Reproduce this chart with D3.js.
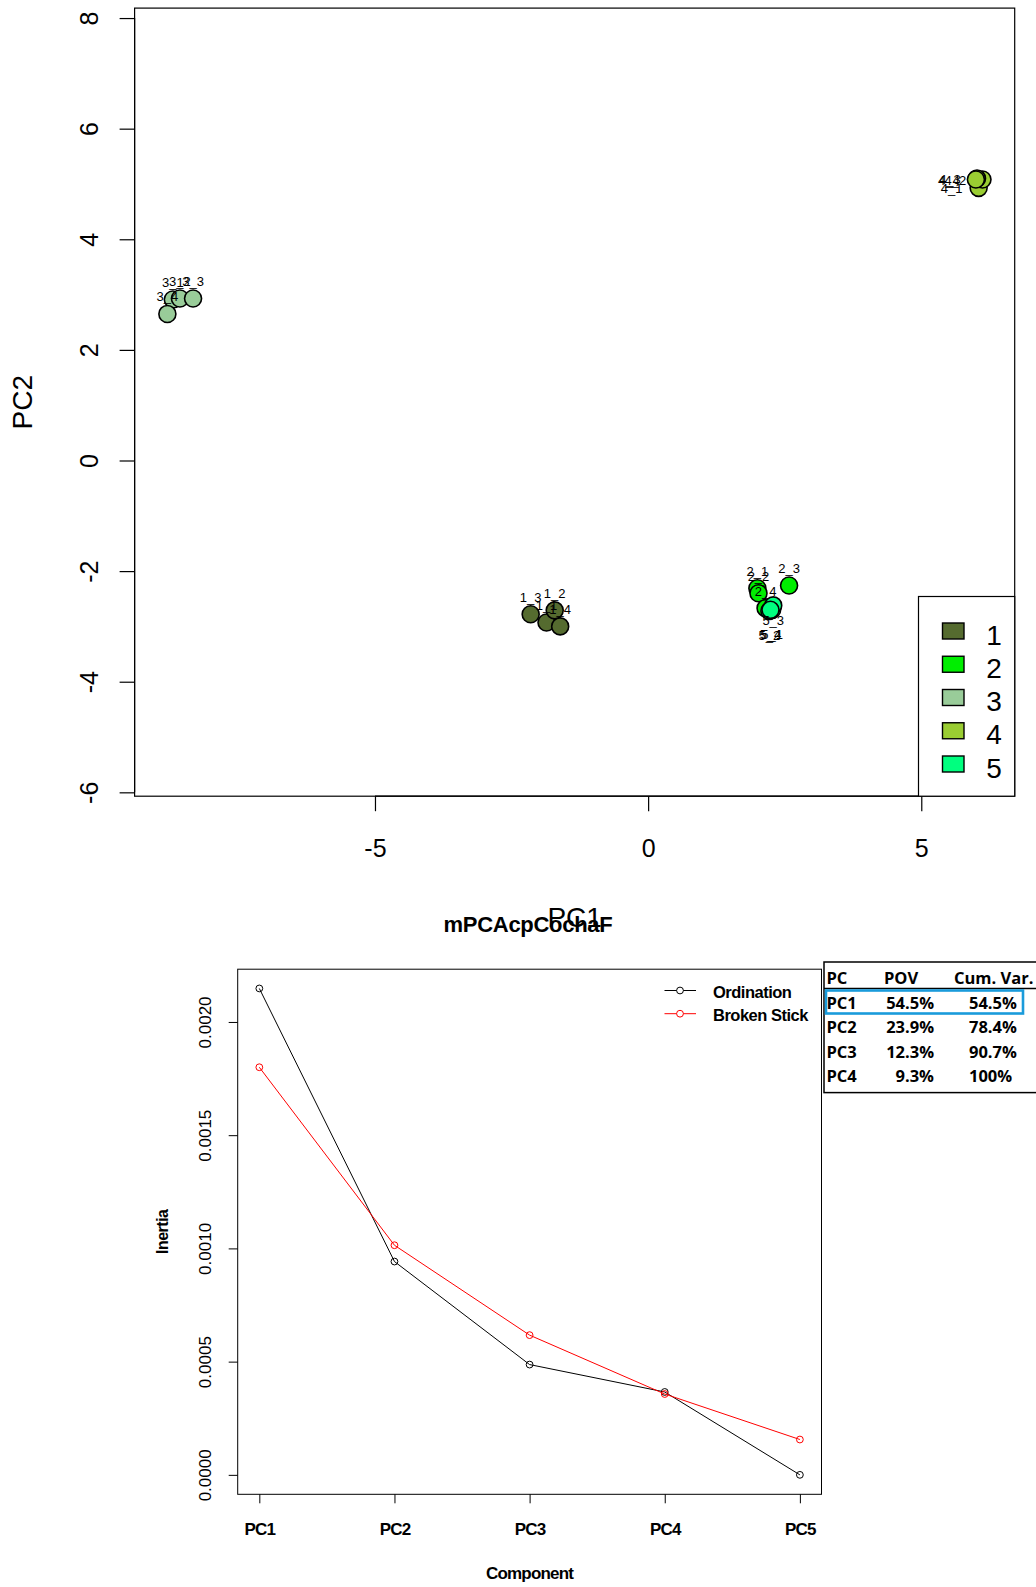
<!DOCTYPE html>
<html>
<head>
<meta charset="utf-8">
<script src="https://cdn.jsdelivr.net/npm/d3@7"></script>
<style>
  body { margin: 0; background: #fff; }
  svg text { font-family: "Liberation Sans", Arial, sans-serif; }
</style>
</head>
<body>
<div id="chart"></div>
<script>
// ---------- PCA scores (top plot) ----------
var groupNames  = ["1", "2", "3", "4", "5"];
var groupColors = ["#556B2F", "#00EE00", "#99CC99", "#9ACD32", "#00FF7F"];

var sampleIds   = ["1_1","1_2","1_3","1_4","2_1","2_2","2_3","2_4","3_1","3_2",
                   "3_3","3_4","4_1","4_2","4_3","4_4","5_1","5_2","5_3","5_4"];
var sampleGroup = [0,0,0,0,1,1,1,1,2,2,2,2,3,3,3,3,4,4,4,4];
var pc1Scores   = [-1.86,-1.71,-2.15,-1.61, 2.00, 2.02, 2.58, 2.15,-8.70,-8.57,
                   -8.33,-8.80, 6.05, 6.12, 6.02, 6.00, 2.27, 2.22, 2.29, 2.24];
var pc2Scores   = [-2.93,-2.71,-2.78,-3.00,-2.31,-2.40,-2.26,-2.67, 2.91, 2.93,
                    2.93, 2.65, 4.93, 5.08, 5.10, 5.08,-2.70,-2.72,-2.62,-2.70];
var labelSide   = ["above","above","above","above","above","above","above","above","above","above",
                   "above","above","left","left","left","left","below2","below2","below","below2"];
var pc1Ticks = [-5, 0, 5];
var pc2Ticks = [-6, -4, -2, 0, 2, 4, 6, 8];

// ---------- screeplot (bottom plot) ----------
var components   = ["PC1", "PC2", "PC3", "PC4", "PC5"];
var ordination   = [0.002148, 0.000942, 0.000487, 0.000366, 0.000000];
var brokenStick  = [0.001800, 0.001014, 0.000617, 0.000357, 0.000156];
var inertiaTicks = [0.0000, 0.0005, 0.0010, 0.0015, 0.0020];

// ---------- variance table ----------
var tableHeader  = ["PC", "POV", "Cum. Var."];
var tablePCs     = ["PC1", "PC2", "PC3", "PC4"];
var povValues    = ["54.5%", "23.9%", "12.3%", "9.3%"];
var cumVarValues = ["54.5%", "78.4%", "90.7%", "100%"];

// R prints a plain hyphen for negatives
var hyphenFmt = function(d) { return d < 0 ? "-" + (-d) : "" + d; };

var svg = d3.select("#chart").append("svg")
    .attr("width", 1036)
    .attr("height", 1587)
    .style("background", "#fff");

// ================= top: PC1 vs PC2 =================
var box1 = {left: 134.6, right: 1014.7, top: 8.1, bottom: 796.2};

var x1 = d3.scaleLinear().domain([-9.40, 6.71]).range([box1.left, box1.right]);
var y1 = d3.scaleLinear().domain([-6.07, 8.18]).range([box1.bottom, box1.top]);

svg.append("rect")
    .attr("x", box1.left).attr("y", box1.top)
    .attr("width", box1.right - box1.left).attr("height", box1.bottom - box1.top)
    .attr("fill", "none").attr("stroke", "#000").attr("stroke-width", 1.2);

// x axis
var xAx1 = svg.append("g").attr("transform", "translate(0," + box1.bottom + ")")
    .call(d3.axisBottom(x1).tickValues(pc1Ticks).tickSize(15).tickPadding(28).tickFormat(hyphenFmt));
xAx1.select(".domain").attr("d", "M" + x1(-5) + ",0H" + x1(5)).attr("stroke-width", 1.2);
xAx1.selectAll("line").attr("stroke-width", 1.2);
xAx1.selectAll("text").style("font-size", "25px").style("font-family", "Liberation Sans, Arial").attr("fill", "#000");

// y axis (labels parallel to axis, like R)
var yAx1 = svg.append("g").attr("transform", "translate(" + box1.left + ",0)")
    .call(d3.axisLeft(y1).tickValues(pc2Ticks).tickSize(15).tickFormat(hyphenFmt));
yAx1.select(".domain").attr("d", "M0," + y1(-6) + "V" + y1(8)).attr("stroke-width", 1.2);
yAx1.selectAll("line").attr("stroke-width", 1.2);
yAx1.selectAll("text")
    .attr("x", 0).attr("dy", null)
    .attr("transform", "translate(-46,0) rotate(-90)")
    .attr("text-anchor", "middle")
    .attr("dominant-baseline", "central")
    .style("font-size", "25px").style("font-family", "Liberation Sans, Arial").attr("fill", "#000");

svg.append("text")
    .attr("transform", "translate(22," + ((box1.top + box1.bottom) / 2) + ") rotate(-90)")
    .attr("text-anchor", "middle").attr("dominant-baseline", "central")
    .style("font-size", "28px").text("PC2");

svg.append("text")
    .attr("x", (box1.left + box1.right) / 2).attr("y", 927)
    .attr("text-anchor", "middle")
    .style("font-size", "28px").text("PC1");

// points
var idx = d3.range(sampleIds.length);
svg.append("g").selectAll("circle")
    .data(idx).enter().append("circle")
    .attr("cx", function(i) { return x1(pc1Scores[i]); })
    .attr("cy", function(i) { return y1(pc2Scores[i]); })
    .attr("r", 8.5)
    .attr("fill", function(i) { return groupColors[sampleGroup[i]]; })
    .attr("stroke", "#000")
    .attr("stroke-width", 1.6);

// sample labels
var offsets = {above: [0, -17], left: [-27, 1], below: [0, 15], below2: [0, 25]};
svg.append("g").selectAll("text")
    .data(idx).enter().append("text")
    .attr("x", function(i) { return x1(pc1Scores[i]) + offsets[labelSide[i]][0]; })
    .attr("y", function(i) { return y1(pc2Scores[i]) + offsets[labelSide[i]][1]; })
    .attr("text-anchor", "middle")
    .attr("dominant-baseline", "central")
    .style("font-size", "13px")
    .text(function(i) { return sampleIds[i]; });

// legend
var leg1 = svg.append("g");
leg1.append("rect")
    .attr("x", 918.5).attr("y", 596.5)
    .attr("width", box1.right - 918.5).attr("height", box1.bottom - 596.5)
    .attr("fill", "#fff").attr("stroke", "#000").attr("stroke-width", 1.2);
var legRow = d3.scaleLinear().domain([0, 4]).range([631, 764]);
leg1.selectAll(".sw").data(groupNames).enter().append("rect")
    .attr("class", "sw")
    .attr("x", 942.5).attr("width", 21.5)
    .attr("y", function(d, i) { return legRow(i) - 8; }).attr("height", 16)
    .attr("fill", function(d, i) { return groupColors[i]; })
    .attr("stroke", "#000").attr("stroke-width", 1.4);
leg1.selectAll(".lt").data(groupNames).enter().append("text")
    .attr("class", "lt")
    .attr("x", 994).attr("y", function(d, i) { return legRow(i) + 4; })
    .attr("text-anchor", "middle").attr("dominant-baseline", "central")
    .style("font-size", "28px")
    .text(function(d) { return d; });

// ================= bottom: screeplot =================
svg.append("text")
    .attr("x", 528).attr("y", 932)
    .attr("text-anchor", "middle")
    .style("font-size", "22px").style("font-weight", "bold").style("letter-spacing", "-0.3px")
    .text("mPCAcpCochaF");

var box2 = {left: 237.7, right: 821.5, top: 969.2, bottom: 1494.3};
var x2 = d3.scaleLinear().domain([0.84, 5.16]).range([box2.left, box2.right]);
var y2 = d3.scaleLinear().domain([-0.0000859, 0.002233]).range([box2.bottom, box2.top]);

svg.append("rect")
    .attr("x", box2.left).attr("y", box2.top)
    .attr("width", box2.right - box2.left).attr("height", box2.bottom - box2.top)
    .attr("fill", "none").attr("stroke", "#000").attr("stroke-width", 1);

var xAx2 = svg.append("g").attr("transform", "translate(0," + box2.bottom + ")")
    .call(d3.axisBottom(x2).tickValues([1, 2, 3, 4, 5]).tickSize(9).tickPadding(20)
        .tickFormat(function(d) { return components[d - 1]; }));
xAx2.select(".domain").remove();
xAx2.selectAll("text").style("font-size", "17px").style("font-weight", "bold")
    .style("letter-spacing", "-0.8px").style("font-family", "Liberation Sans, Arial").attr("fill", "#000");

var yAx2 = svg.append("g").attr("transform", "translate(" + box2.left + ",0)")
    .call(d3.axisLeft(y2).tickValues(inertiaTicks).tickSize(9).tickFormat(d3.format(".4f")));
yAx2.select(".domain").remove();
yAx2.selectAll("text")
    .attr("x", 0).attr("dy", null)
    .attr("transform", "translate(-32,0) rotate(-90)")
    .attr("text-anchor", "middle").attr("dominant-baseline", "central")
    .style("font-size", "17px").style("font-family", "Liberation Sans, Arial").attr("fill", "#000");

svg.append("text")
    .attr("transform", "translate(162," + ((box2.top + box2.bottom) / 2) + ") rotate(-90)")
    .attr("text-anchor", "middle").attr("dominant-baseline", "central")
    .style("font-size", "16px").style("font-weight", "bold").style("letter-spacing", "-0.5px")
    .text("Inertia");

svg.append("text")
    .attr("x", (box2.left + box2.right) / 2).attr("y", 1579)
    .attr("text-anchor", "middle")
    .style("font-size", "17px").style("font-weight", "bold").style("letter-spacing", "-0.8px")
    .text("Component");

var series = [
    {name: "Ordination",   values: ordination,  color: "#000"},
    {name: "Broken Stick", values: brokenStick, color: "#FF0000"}
];
var line2 = d3.line()
    .x(function(d, i) { return x2(i + 1); })
    .y(function(d) { return y2(d); });

series.forEach(function(s) {
    svg.append("path")
        .attr("d", line2(s.values))
        .attr("fill", "none").attr("stroke", s.color).attr("stroke-width", 1);
    svg.append("g").selectAll("circle")
        .data(s.values).enter().append("circle")
        .attr("cx", function(d, i) { return x2(i + 1); })
        .attr("cy", function(d) { return y2(d); })
        .attr("r", 3.4)
        .attr("fill", "none").attr("stroke", s.color).attr("stroke-width", 1);
});

// legend of screeplot
series.forEach(function(s, i) {
    var ly = 990.5 + i * 23.2;
    svg.append("line")
        .attr("x1", 664.5).attr("x2", 696).attr("y1", ly).attr("y2", ly)
        .attr("stroke", s.color).attr("stroke-width", 1);
    svg.append("circle")
        .attr("cx", 680).attr("cy", ly).attr("r", 3.4)
        .attr("fill", "#fff").attr("stroke", s.color).attr("stroke-width", 1);
    svg.append("text")
        .attr("x", 713).attr("y", ly + 1)
        .attr("dominant-baseline", "central")
        .style("font-size", "16.5px").style("font-weight", "bold").style("letter-spacing", "-0.5px")
        .text(s.name);
});

// ================= variance table =================
var tbl = svg.append("g");
tbl.append("rect")
    .attr("x", 824).attr("y", 962)
    .attr("width", 240).attr("height", 130.6)
    .attr("fill", "#fff").attr("stroke", "#000").attr("stroke-width", 1.5);
tbl.append("line")
    .attr("x1", 824).attr("x2", 1036).attr("y1", 988.5).attr("y2", 988.5)
    .attr("stroke", "#000").attr("stroke-width", 1.5);

var tFont = "\"Open Sans\", \"Liberation Sans\", sans-serif";
var tSize = "16.5px";
var headX = [826.5, 884, 954];
tbl.selectAll(".th").data(tableHeader).enter().append("text")
    .attr("class", "th")
    .attr("x", function(d, i) { return headX[i]; }).attr("y", 977.5)
    .attr("dominant-baseline", "central")
    .style("font-family", tFont).style("font-size", tSize).style("font-weight", "bold")
    .text(function(d) { return d; });

var rowY = d3.scaleLinear().domain([0, 3]).range([1002.5, 1075.5]);
tablePCs.forEach(function(pc, i) {
    var ty = rowY(i);
    tbl.append("text").attr("x", 826.5).attr("y", ty).attr("dominant-baseline", "central")
        .style("font-family", tFont).style("font-size", tSize).style("font-weight", "bold")
        .text(pc);
    tbl.append("text").attr("x", 934).attr("y", ty).attr("dominant-baseline", "central")
        .attr("text-anchor", "end")
        .style("font-family", tFont).style("font-size", tSize).style("font-weight", "bold")
        .text(povValues[i]);
    tbl.append("text").attr("x", 969).attr("y", ty).attr("dominant-baseline", "central")
        .style("font-family", tFont).style("font-size", tSize).style("font-weight", "bold")
        .text(cumVarValues[i]);
});
// highlighted first row
tbl.append("rect")
    .attr("x", 826).attr("y", 990.5)
    .attr("width", 197).attr("height", 23)
    .attr("fill", "none").attr("stroke", "#1A9BDB").attr("stroke-width", 2.6);
</script>
</body>
</html>
